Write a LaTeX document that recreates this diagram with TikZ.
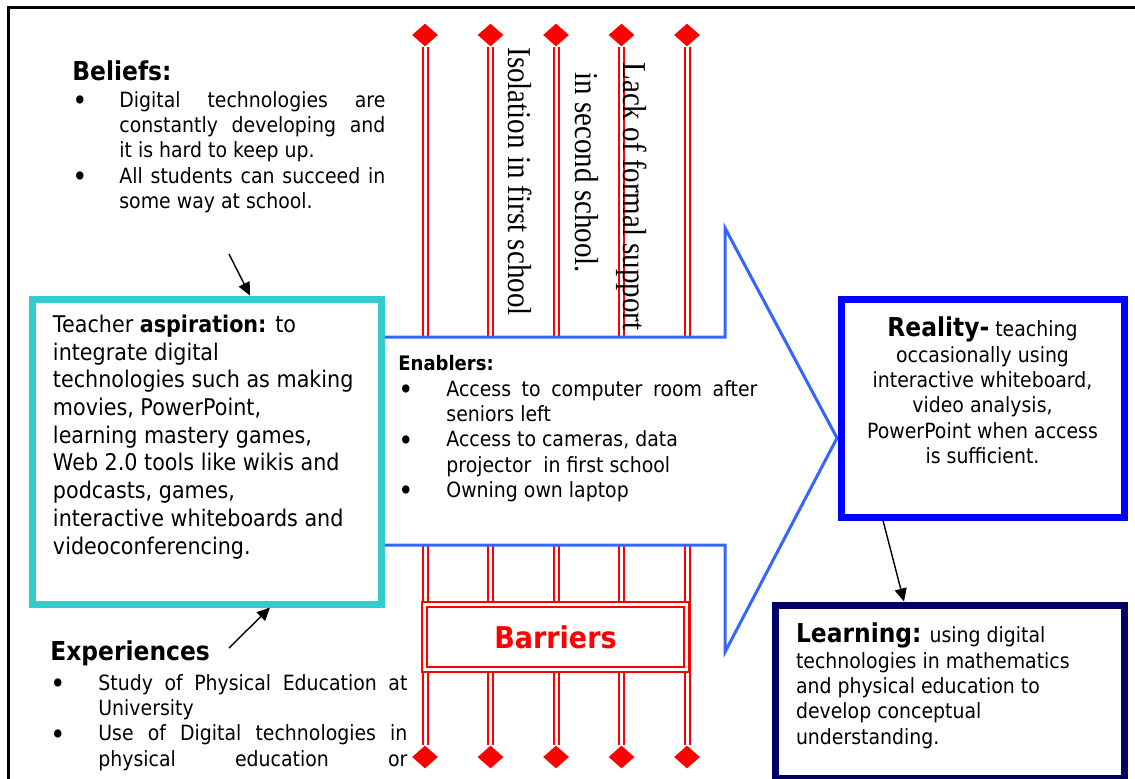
\documentclass[tikz,border=0pt]{standalone}
\usepackage{fontspec}
\usepackage{graphicx}
\usetikzlibrary{shapes.geometric,arrows.meta}
\setmainfont{DejaVu Sans}[FakeStretch=0.9]
\newfontfamily\timesfont{Liberation Serif}

\definecolor{aspireteal}{HTML}{33CCCC}
\definecolor{flowblue}{HTML}{3366FF}
\definecolor{realblue}{HTML}{0000FF}
\definecolor{learnnavy}{HTML}{000066}

\newlength\bind
\newcommand\bdot{\raisebox{-1.6pt}{\scalebox{1.35}{\textbullet}}}
\newcommand\bitem[1]{\par\hangindent=\bind\hangafter=1\noindent\makebox[\bind][l]{\bdot}#1\par}
\newcommand\bodyfont{\fontsize{10.5}{12.7}\selectfont}
\newcommand\headfont{\fontsize{13}{15}\selectfont\bfseries}
\newcommand\teachfont{\fontsize{11.5}{13.85}\selectfont}
\newcommand\tallish[1]{\scalebox{1}[1.15]{#1}}

\begin{document}
\begin{tikzpicture}[x=0.5pt,y=-0.5pt,
    dia/.style={diamond, fill=red, inner sep=0pt, aspect=1.15, minimum width=13pt, minimum height=11.5pt},
    redbar/.style={draw=red, double=white, line width=1pt, double distance=1.5pt},
    pointer/.style={-{Triangle[length=6.5pt,width=6pt]}, line width=0.7pt},
    textblock/.style={anchor=north west, inner sep=0pt, align=justify, font=\bodyfont},
    sideways/.style={rotate=-90, anchor=north west, inner sep=0pt, font=\timesfont\fontsize{14.5}{24}\selectfont}]
        \useasboundingbox (0,0) rectangle (1135,778);
        \clip (0,0) rectangle (1135,778);
        \draw[line width=1.5pt] (8.5,7.5) rectangle (1150,800);

        \node[dia] (top1) at (425,35) {};
        \node[dia] (top2) at (490.5,35) {};
        \node[dia] (top3) at (556,35) {};
        \node[dia] (top4) at (621.5,35) {};
        \node[dia] (top5) at (687,35) {};
        \node[dia] (bot1) at (425,757) {};
        \node[dia] (bot2) at (490.5,757) {};
        \node[dia] (bot3) at (556,757) {};
        \node[dia] (bot4) at (621.5,757) {};
        \node[dia] (bot5) at (687,757) {};
        \draw[redbar] (top1) -- (bot1);
        \draw[redbar] (top2) -- (bot2);
        \draw[redbar] (top3) -- (bot3);
        \draw[redbar] (top4) -- (bot4);
        \draw[redbar] (top5) -- (bot5);

        \draw[flowblue, line width=1.5pt, fill=white] (370,337) -- (725,337) -- (725,228) -- (837,438)
            -- (725,652) -- (725,545) -- (370,545) -- cycle;

        \node[redbar, fill=white, text=red, minimum width=131pt, minimum height=32.5pt,
              font=\fontsize{15}{18}\selectfont\bfseries] (barriers) at (555.5,637) {Barriers};

        \node[draw=aspireteal, line width=3.5pt, fill=white, inner xsep=10.5pt, inner ysep=8pt] (teacher) at (206.5,451.5)
            {\parbox[c][136.5pt][t]{153.5pt}{\teachfont\raggedright Teacher \textbf{aspiration:} to\\integrate digital\\
             \mbox{technologies such as making}\\movies, PowerPoint,\\learning mastery games,\\
             \mbox{Web 2.0 tools like wikis and}\\podcasts, games,\\\mbox{interactive whiteboards and}\\videoconferencing.}};

        \node[sideways] (isolation) at (532,47) {\tallish{Isolation in first school}};
        \node[sideways, align=left] (support) at (647,62)
            {\tallish{Lack of formal support}\\\hspace*{5pt}\tallish{in second school.}};

        \node[textblock, text width=156.5pt] (beliefs) at (72,60)
            {{\headfont Beliefs:\par}\vspace{0.8pt}\setlength\bind{23.5pt}%
             \bitem{Digital technologies are\linebreak constantly developing and\linebreak it is hard to keep up.}%
             \bitem{All students can succeed in\linebreak some way at school.}};
        \node[textblock, text width=178.5pt] (experiences) at (50,640)
            {{\headfont Experiences\par}\vspace{2.3pt}\setlength\bind{24pt}%
             \bitem{Study of Physical Education at\linebreak University}%
             \bitem{Use of Digital technologies in\linebreak physical education or\parfillskip=0pt}};
        \node[textblock, text width=179.5pt] (enablers) at (398,355)
            {{\fontsize{10}{12}\selectfont\bfseries Enablers:\par}\setlength\bind{24pt}%
             \bitem{Access to computer room after\linebreak seniors left}%
             \bitem{Access to cameras, data\newline projector\ \ in first school}%
             \bitem{Owning own laptop}};

        \node[draw=realblue, line width=3.5pt, fill=white, inner xsep=6pt, inner ysep=9pt] (reality) at (982.5,408)
            {\parbox[c][91pt][t]{129.5pt}{\centering\bodyfont{\headfont Reality-} teaching\\occasionally using\\
             interactive whiteboard,\\video analysis,\\PowerPoint when access\\is sufficient.}};
        \node[draw=learnnavy, line width=3.5pt, fill=white, inner xsep=10.5pt, inner ysep=9pt] (learning) at (949.5,691.5)
            {\parbox[c][68.5pt][t]{153.5pt}{\raggedright\bodyfont{\headfont Learning:} using digital\\
             technologies in mathematics\\and physical education to\\develop conceptual\\understanding.}};

        \coordinate (beliefstail) at (229,254);
        \coordinate (experiencestail) at (229,648);
        \draw[pointer] (beliefstail) -- ([xshift=21.75pt]teacher.north);
        \draw[pointer] (experiencestail) -- ([xshift=31.75pt]teacher.south);
        \draw[pointer] ([xshift=-49.75pt]reality.south) -- ([xshift=-22.75pt]learning.north);
\end{tikzpicture}
\end{document}
